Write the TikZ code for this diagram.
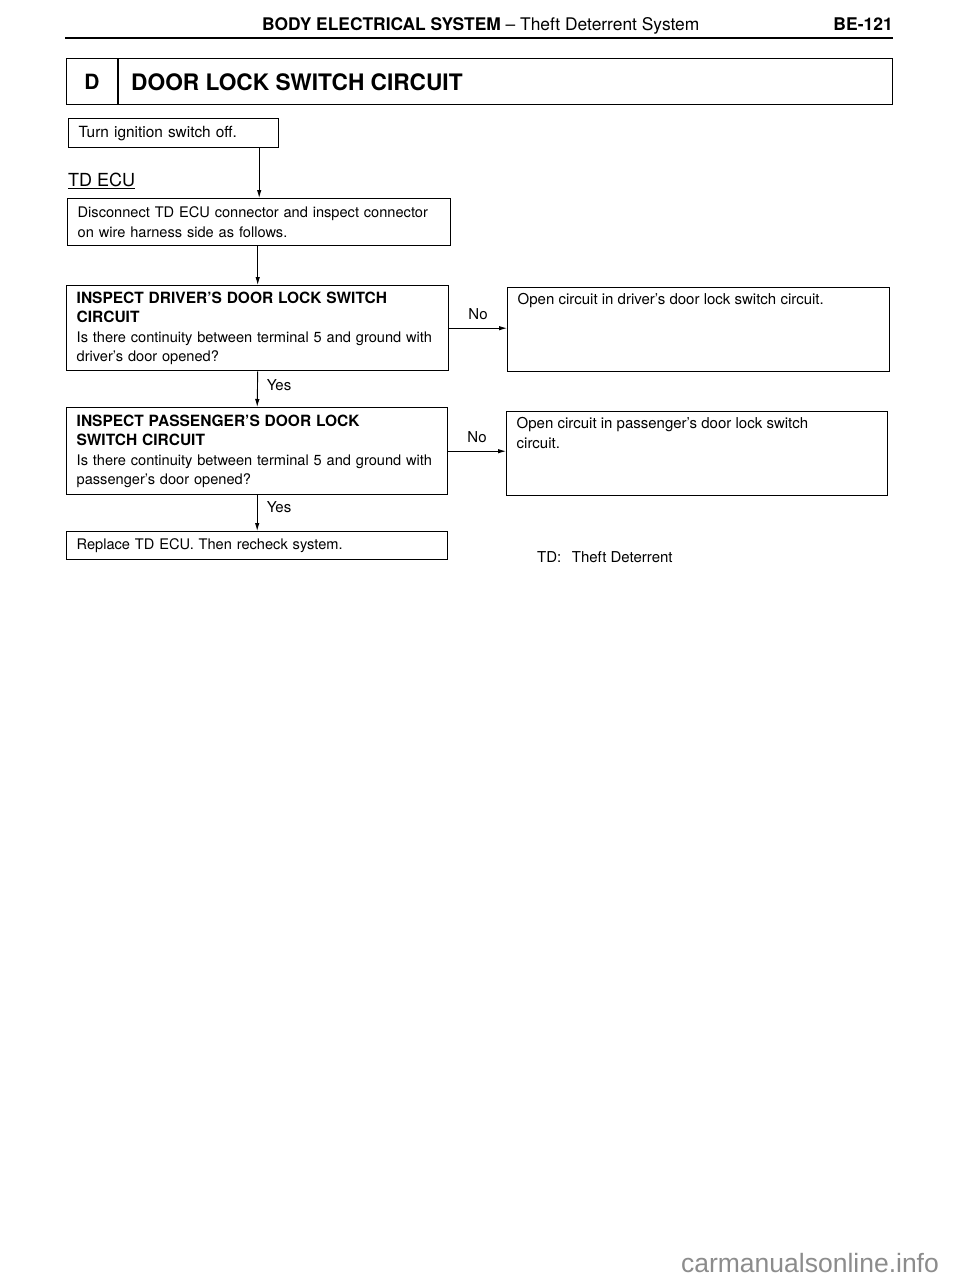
\documentclass[tikz,border=0pt]{standalone}
\usepackage{fontspec}
\setmainfont{TeX Gyre Heros}
\newfontfamily\wmfont{Liberation Sans}
\usetikzlibrary{arrows.meta}
\newcommand{\bhd}[1]{{\fontsize{15.5}{19.5}\selectfont\bfseries #1}}
\tikzset{
  box/.style={draw, line width=1.4pt, inner ysep=0pt, inner xsep=10pt, align=left, anchor=north west,
    font=\fontsize{14.6}{19.5}\selectfont},
  rbox/.style={draw, line width=1.4pt, inner sep=0pt, inner xsep=10pt, anchor=north west,
    font=\fontsize{15}{19.5}\selectfont},
  arr/.style={-{Latex[length=8pt,width=4.5pt]}, line width=0.9pt},
  lbl/.style={font=\fontsize{15}{18}\selectfont, inner sep=0pt},
}
\begin{document}
\begin{tikzpicture}[x=1pt,y=-1pt]
\useasboundingbox[fill=white] (0,0) rectangle (960,1280);
% header
\node[anchor=base west, inner sep=0pt, font=\fontsize{17.4}{20}\selectfont] (hdr) at (262,30)
  {\textbf{BODY ELECTRICAL SYSTEM} -- Theft Deterrent System};
\node[anchor=base east, inner sep=0pt, font=\fontsize{17.5}{20}\selectfont\bfseries] (pg) at (893,30) {BE-121};
\draw[line width=2.5pt] (65,38) -- (893,38);
% title box
\node[draw, line width=1.4pt, anchor=north west, minimum width=826pt, minimum height=46pt, inner sep=0pt] (tbox) at (66,58) {};
\draw[line width=1.2pt] (118,58) -- (118,104);
\node[font=\fontsize{21}{24}\selectfont\bfseries, inner sep=0pt] (tD) at (92,82) {D};
\node[font=\fontsize{22.7}{24}\selectfont\bfseries, anchor=west, inner sep=0pt] (ttl) at (131,82) {DOOR LOCK SWITCH CIRCUIT};
% flow
\node[box, text width=190pt, minimum height=29pt, font=\fontsize{15.4}{19.5}\selectfont] (turn) at (68,118) {Turn ignition switch off.};
\node[anchor=west, inner sep=0pt, font=\fontsize{18}{20}\selectfont] (ecu) at (68,181) {\underline{TD ECU}};
\node[box, text width=363pt, minimum height=47pt] (disc) at (67,198)
  {Disconnect TD ECU connector and inspect connector\\on wire harness side as follows.};
\node[box, text width=362pt, minimum height=85pt] (drv) at (66,285)
  {\bhd{INSPECT DRIVER'S DOOR LOCK SWITCH}\\\bhd{CIRCUIT}\\Is there continuity between terminal 5 and ground with\\driver's door opened?};
\node[box, text width=361pt, minimum height=87pt] (pas) at (66,407)
  {\bhd{INSPECT PASSENGER'S DOOR LOCK}\\\bhd{SWITCH CIRCUIT}\\Is there continuity between terminal 5 and ground with\\passenger's door opened?};
\node[box, text width=361pt, minimum height=28pt] (rep) at (66,531) {Replace TD ECU. Then recheck system.};
\node[rbox] (r1) at (507,287)
  {\parbox[c][84pt][t]{362pt}{\vspace*{6pt}\raggedright Open circuit in driver's door lock switch circuit.}};
\node[rbox] (r2) at (506,411)
  {\parbox[c][84pt][t]{361pt}{\vspace*{6pt}\raggedright Open circuit in passenger's door lock switch\\circuit.}};
% connectors
\draw[arr] (disc.north |- turn.south) -- (disc.north);
\draw[arr] (disc.south -| drv.north) -- (drv.north);
\draw[arr] (drv.south) -- (pas.north);
\draw[arr] (pas.south) -- (rep.north);
\draw[arr] (drv.east) -- (drv.east -| r1.west);
\draw[arr] (pas.east) -- (pas.east -| r2.west);
% labels
\node[lbl] (no1) at (478,314) {No};
\node[lbl] (no2) at (477,437) {No};
\node[lbl] (y1) at (279,385) {Yes};
\node[lbl] (y2) at (279,507) {Yes};
\node[lbl, anchor=west] (td) at (537,557) {TD:\hspace{0.7em}Theft Deterrent};
\node[inner sep=0pt, font=\wmfont\fontsize{26.5}{30}\selectfont, text=black!45] (wm) at (810,1263) {carmanualsonline.info};
\end{tikzpicture}
\end{document}
